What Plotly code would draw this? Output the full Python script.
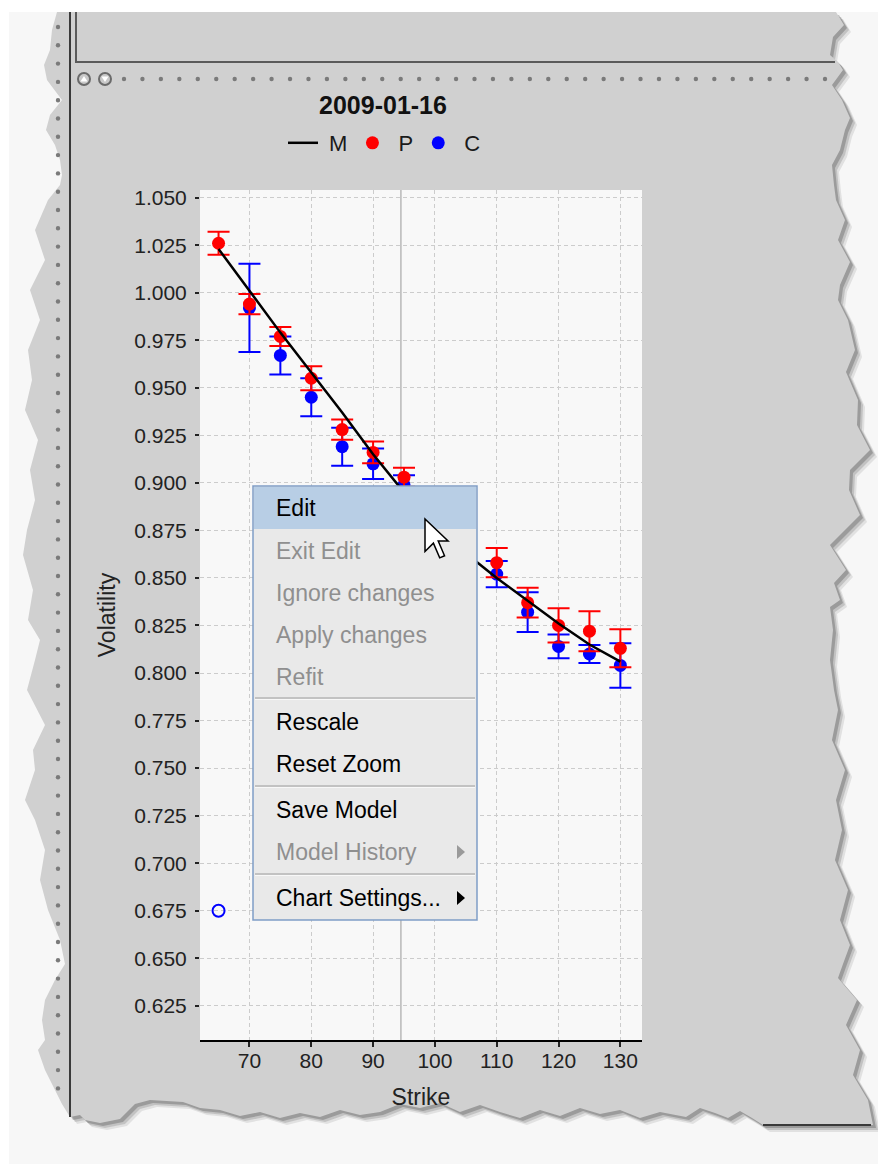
import numpy as np
import plotly.graph_objects as go

# ---- values ----
EXPIRY = "2009-01-16"
STRIKES = [65, 70, 75, 80, 85, 90, 95, 100, 105, 110, 115, 120, 125, 130]
MODEL_VOL = [1.023, 1.001, 0.979, 0.958, 0.937, 0.915, 0.895,
             0.879, 0.863, 0.850, 0.838, 0.826, 0.815, 0.806]
PUT_VOL = [1.026, 0.994, 0.977, 0.955, 0.928, 0.916, 0.903,
           0.882, 0.867, 0.858, 0.837, 0.825, 0.822, 0.813]
PUT_ERR = [0.006, 0.0053, 0.005, 0.0063, 0.0053, 0.0057, 0.005,
           0.006, 0.007, 0.0077, 0.0078, 0.009, 0.0105, 0.010]
CALL_STRIKES = [70, 75, 80, 85, 90, 95, 100, 105, 110, 115, 120, 125, 130]
CALL_VOL = [0.992, 0.967, 0.945, 0.919, 0.910, 0.899, 0.877,
            0.862, 0.852, 0.832, 0.814, 0.810, 0.804]
CALL_ERR = [0.0232, 0.010, 0.010, 0.010, 0.008, 0.005, 0.006,
            0.006, 0.0069, 0.0104, 0.0062, 0.0047, 0.0117]
EXCLUDED_STRIKE = [65]
EXCLUDED_VOL = [0.675]
UNDERLYING = 94.5

MENU_ITEMS = [
    ("Edit", True), ("Exit Edit", False), ("Ignore changes", False),
    ("Apply changes", False), ("Refit", False), ("Rescale", True),
    ("Reset Zoom", True), ("Save Model", True), ("Model History", False),
    ("Chart Settings...", True),
]
MENU_ROW_Y = [508, 551, 593, 635, 677, 722, 764, 810, 852, 898]

# ---- page geometry (page pixels; the page body adds an 8px margin) ----
PAGE_W, PAGE_H = 886, 1164
OFF = 8
W, H = PAGE_W - OFF, PAGE_H - OFF
L, R, T, B = 200, 642, 190, 1040
FONT = "Liberation Sans, Arial, sans-serif"
GRAY = "#d0d0d0"


def px(x):
    return (x - L) / (R - L)


def py(y):
    return (B - y) / (B - T)


def path(points, dx=0, dy=0, close=True):
    s = "M " + " L ".join(f"{px(x + dx):.5f},{py(y + dy):.5f}" for x, y in points)
    return s + (" Z" if close else "")


# torn-paper outline of the screenshot
OUTLINE = [
    (57, 12), (836, 12), (844, 25), (833, 37), (830, 55), (838, 62), (843, 70),
    (832, 85), (842, 100), (850, 118), (845, 130), (840, 150), (832, 165),
    (834, 185), (836, 200), (845, 220), (838, 240), (850, 262), (840, 285),
    (838, 300), (848, 320), (855, 350), (846, 372), (858, 400), (857, 425),
    (870, 450), (850, 470), (849, 490), (860, 515), (830, 545), (846, 570),
    (834, 583), (840, 600), (830, 607), (833, 630), (830, 660), (834, 690),
    (838, 710), (832, 740), (845, 770), (836, 800), (842, 830), (835, 860),
    (848, 890), (840, 920), (850, 945), (843, 964), (838, 978), (857, 1000),
    (846, 1025), (860, 1050), (853, 1075), (868, 1100), (873, 1125),
    (763, 1125), (752, 1118), (740, 1111), (728, 1118), (715, 1113),
    (700, 1108), (686, 1117), (660, 1112), (640, 1118), (620, 1110),
    (600, 1114), (580, 1108), (560, 1116), (540, 1110), (520, 1118),
    (500, 1112), (480, 1105), (460, 1112), (440, 1103), (420, 1108),
    (400, 1104), (380, 1112), (360, 1115), (340, 1110), (320, 1117),
    (300, 1113), (280, 1118), (260, 1112), (240, 1116), (220, 1110),
    (200, 1108), (183, 1102), (150, 1100), (135, 1104), (120, 1119),
    (100, 1123), (85, 1120), (80, 1115), (70, 1117), (62, 1104), (55, 1090),
    (45, 1070), (38, 1050), (45, 1040), (42, 1020), (45, 1000), (55, 980),
    (65, 964), (60, 940), (48, 910), (40, 880), (45, 850), (35, 820),
    (25, 800), (35, 770), (33, 750), (45, 725), (27, 690), (35, 660),
    (40, 640), (28, 620), (33, 590), (23, 555), (27, 530), (35, 500),
    (30, 470), (38, 440), (25, 410), (32, 380), (28, 350), (40, 320),
    (30, 290), (45, 260), (35, 230), (48, 200), (60, 185), (62, 175),
    (60, 160), (55, 145), (46, 130), (50, 115), (62, 100), (47, 80),
    (44, 65), (50, 50), (52, 30),
]

shapes = []
shapes.append(dict(type="rect", xref="paper", yref="paper", layer="below",
                   x0=px(9), x1=px(PAGE_W), y0=py(12), y1=py(PAGE_H),
                   fillcolor="#f7f7f7", line_width=0))
for off, alpha in [(7, 0.10), (5, 0.16), (3, 0.25)]:
    shapes.append(dict(type="path", xref="paper", yref="paper", layer="below",
                       path=path(OUTLINE, off, off), line_width=0,
                       fillcolor=f"rgba(40,40,40,{alpha})"))
shapes.append(dict(type="path", xref="paper", yref="paper", layer="below",
                   path=path(OUTLINE), fillcolor=GRAY, line_width=0))
shapes.append(dict(type="rect", xref="paper", yref="paper", layer="below",
                   x0=0, x1=1, y0=0, y1=1, fillcolor="#f8f8f8", line_width=0))

# panel frame lines
shapes.append(dict(type="line", xref="paper", yref="paper", layer="below",
                   x0=px(70), x1=px(70), y0=py(12), y1=py(1117),
                   line=dict(color="#3a3a3a", width=2)))
shapes.append(dict(type="path", xref="paper", yref="paper", layer="below",
                   path=path([(76, 12), (76, 62), (835, 62)], close=False),
                   line=dict(color="#5a5a5a", width=2)))
shapes.append(dict(type="line", xref="paper", yref="paper", layer="below",
                   x0=px(763), x1=px(871), y0=py(1125), y1=py(1125),
                   line=dict(color="#3a3a3a", width=2)))

# splitter dots
dots = [(58, y) for y in np.arange(27, 1106, 18.3)]
dots += [(x, 79) for x in np.linspace(124, 825, 39)]
for x, y in dots:
    shapes.append(dict(type="circle", xref="paper", yref="paper", layer="below",
                       x0=px(x - 2.2), x1=px(x + 2.2), y0=py(y + 2.2), y1=py(y - 2.2),
                       fillcolor="#7a7a7a", line_width=0))

# splitter arrow buttons
for cx, up in [(84, True), (105, False)]:
    shapes.append(dict(type="circle", xref="paper", yref="paper", layer="below",
                       x0=px(cx - 6), x1=px(cx + 6), y0=py(79 + 6), y1=py(79 - 6),
                       fillcolor="#c8c8c8", line=dict(color="#6a6a6a", width=2)))
    tri = [(cx - 3.5, 81.5), (cx + 3.5, 81.5), (cx, 76)] if up else \
          [(cx - 3.5, 76.5), (cx + 3.5, 76.5), (cx, 82)]
    shapes.append(dict(type="path", xref="paper", yref="paper", layer="below",
                       path=path(tri), fillcolor="#ffffff", line_width=0))

# underlying price marker
shapes.append(dict(type="line", xref="x", yref="paper", layer="between",
                   x0=UNDERLYING, x1=UNDERLYING, y0=0, y1=1,
                   line=dict(color="#b8b8b8", width=1.5)))

# popup menu
shapes.append(dict(type="rect", xref="paper", yref="paper", layer="above",
                   x0=px(253), x1=px(477), y0=py(920), y1=py(486),
                   fillcolor="#e9e9e9", line=dict(color="#7f9dc6", width=1.5)))
shapes.append(dict(type="rect", xref="paper", yref="paper", layer="above",
                   x0=px(254), x1=px(476), y0=py(529), y1=py(487),
                   fillcolor="#b8cee5", line_width=0))
for sy in [698, 786, 874]:
    shapes.append(dict(type="line", xref="paper", yref="paper", layer="above",
                       x0=px(255), x1=px(475), y0=py(sy), y1=py(sy),
                       line=dict(color="#b4b4b4", width=1.5)))
    shapes.append(dict(type="line", xref="paper", yref="paper", layer="above",
                       x0=px(255), x1=px(475), y0=py(sy + 1.5), y1=py(sy + 1.5),
                       line=dict(color="#f8f8f8", width=1)))
for ay, col in [(852, "#9a9a9a"), (898, "#000000")]:
    shapes.append(dict(type="path", xref="paper", yref="paper", layer="above",
                       path=path([(457, ay - 7), (465, ay), (457, ay + 7)]),
                       fillcolor=col, line_width=0))

# mouse pointer
CURSOR = [(0, 0), (0, 15.5), (4, 11.5), (7, 18.5), (9.3, 17.5), (6.3, 10.5), (11, 10.5)]
tip_x, tip_y = 425, 519
shapes.append(dict(type="path", xref="paper", yref="paper", layer="above",
                   path=path([(tip_x + 2.1 * a, tip_y + 2.1 * b) for a, b in CURSOR]),
                   fillcolor="#ffffff", line=dict(color="#000000", width=1.5)))

annotations = []
for (label, enabled), ry in zip(MENU_ITEMS, MENU_ROW_Y):
    annotations.append(dict(
        text=label, xref="paper", yref="paper", x=px(274), y=py(ry),
        xanchor="left", yanchor="middle", showarrow=False,
        font=dict(family=FONT, size=23, color="#000000" if enabled else "#8f8f8f"),
    ))

NBSP = "\u00a0"
fig = go.Figure()
fig.add_trace(go.Scatter(
    name=NBSP + "C", x=CALL_STRIKES, y=CALL_VOL, mode="markers",
    marker=dict(color="#0000ff", size=13),
    error_y=dict(type="data", array=CALL_ERR, color="#0000ff", thickness=2, width=11),
))
fig.add_trace(go.Scatter(
    name="C excluded", x=EXCLUDED_STRIKE, y=EXCLUDED_VOL, mode="markers",
    marker=dict(symbol="circle-open", color="#0000ff", size=12, line=dict(width=2)),
    showlegend=False,
))
fig.add_trace(go.Scatter(
    name=NBSP + "P", x=STRIKES, y=PUT_VOL, mode="markers",
    marker=dict(color="#ff0000", size=13),
    error_y=dict(type="data", array=PUT_ERR, color="#ff0000", thickness=2, width=11),
))
fig.add_trace(go.Scatter(
    name=NBSP + "M", x=STRIKES, y=MODEL_VOL, mode="lines",
    line=dict(color="#000000", width=2.5),
))

fig.update_layout(
    width=W, height=H,
    margin=dict(l=L - OFF, r=PAGE_W - R, t=T - OFF, b=PAGE_H - B, autoexpand=False),
    paper_bgcolor="#ffffff",
    plot_bgcolor="rgba(0,0,0,0)",
    font=dict(family=FONT, color="#1a1a1a"),
    title=dict(text=f"<b>{EXPIRY}</b>",
               font=dict(family=FONT, size=25, color="#111111"),
               x=(383 - OFF) / W, xref="container", xanchor="center",
               y=1 - (105 - OFF) / H, yref="container", yanchor="middle"),
    showlegend=True,
    legend=dict(orientation="h", traceorder="reversed",
                x=px(283), xanchor="left", y=py(143), yanchor="middle",
                bgcolor="rgba(0,0,0,0)", itemwidth=30,
                font=dict(family="Liberation Sans Narrow, Liberation Sans, Arial",
                          size=22, color="#1a1a1a")),
    shapes=shapes,
    annotations=annotations,
)
fig.update_xaxes(
    range=[62, 133.5], dtick=10, tick0=0,
    showgrid=True, gridcolor="#cccccc", griddash="4px,3px", gridwidth=1,
    zeroline=False, showline=True, linecolor="#000000", linewidth=2,
    ticks="outside", ticklen=5, tickwidth=2, tickcolor="#222222",
    tickfont=dict(size=21, color="#222222"), ticklabelstandoff=-4,
    title=dict(text="Strike", font=dict(size=23, color="#222222"), standoff=18),
)
fig.update_yaxes(
    range=[0.607, 1.054], dtick=0.025, tick0=0, tickformat=".3f",
    showgrid=True, gridcolor="#cccccc", griddash="4px,3px", gridwidth=1,
    zeroline=False, showline=False,
    ticks="outside", ticklen=4, tickwidth=2, tickcolor="#222222",
    tickfont=dict(size=21, color="#222222"), ticklabelstandoff=4,
    title=dict(text="Volatility", font=dict(size=23, color="#222222"), standoff=12),
)

fig.write_html("out.html")
